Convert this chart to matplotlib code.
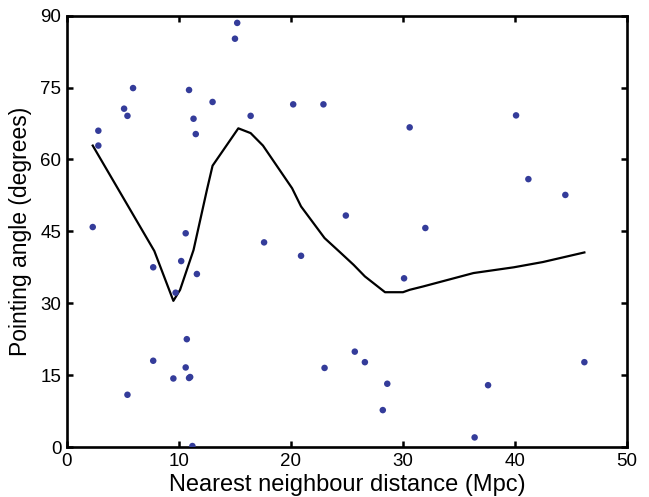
import matplotlib

matplotlib.use("Agg")
import matplotlib.pyplot as plt

# nearest neighbour distance (Mpc) and pointing angle (degrees) of each object
distance = [
    2.3, 2.8, 2.8, 5.1, 5.4, 5.9, 10.9, 11.3, 11.5, 13.0,
    15.0, 15.2, 16.4, 20.2, 22.9, 24.9, 30.6, 40.1, 41.2, 44.5,
    32.0, 10.6, 17.6, 20.9, 7.7, 10.2, 11.6, 9.7, 30.1, 10.7,
    7.7, 10.6, 9.5, 10.9, 11.0, 5.4, 11.2, 23.0, 25.7, 26.6,
    28.6, 28.2, 36.4, 37.6, 46.2,
]
angle = [
    45.9, 62.9, 66.0, 70.6, 69.1, 74.9, 74.5, 68.5, 65.3, 72.0,
    85.2, 88.5, 69.1, 71.5, 71.5, 48.3, 66.7, 69.2, 55.9, 52.6,
    45.7, 44.6, 42.7, 39.9, 37.5, 38.8, 36.1, 32.2, 35.2, 22.5,
    18.0, 16.6, 14.3, 14.4, 14.6, 10.9, 0.2, 16.5, 19.9, 17.7,
    13.2, 7.7, 2.0, 12.9, 17.7,
]

# running mean of the pointing angle
curve_x = [
    2.3, 7.8, 9.5, 10.1, 11.3, 12.5, 13.0, 15.3, 16.4, 17.5,
    20.1, 20.9, 23.0, 24.4, 25.6, 26.6, 28.4, 30.0, 30.6, 31.8,
    36.3, 39.9, 42.5, 46.2,
]
curve_y = [
    62.9, 40.9, 30.5, 32.8, 41.1, 53.7, 58.7, 66.5, 65.5, 62.9,
    54.0, 50.2, 43.6, 40.6, 38.0, 35.6, 32.3, 32.3, 32.8, 33.5,
    36.3, 37.5, 38.6, 40.6,
]

plt.rcParams["font.family"] = ["Liberation Sans", "DejaVu Sans"]

fig = plt.figure(figsize=(6.49, 4.97), dpi=100)
ax = fig.add_axes([0.1032, 0.1006, 0.8628, 0.8678])

ax.scatter(distance, angle, s=22, color="#343C9A", edgecolors="none", zorder=3)
ax.plot(curve_x, curve_y, color="black", linewidth=1.6, zorder=2)

ax.set_xlim(0, 50)
ax.set_ylim(0, 90)
ax.set_xticks(range(0, 51, 10))
ax.set_yticks(range(0, 91, 15))
ax.tick_params(direction="in", top=True, right=True, length=4, width=1.8,
               labelsize=13.5, pad=4)
for spine in ax.spines.values():
    spine.set_linewidth(1.9)

ax.set_xlabel("Nearest neighbour distance (Mpc)", fontsize=17, labelpad=3)
ax.set_ylabel("Pointing angle (degrees)", fontsize=16.5, labelpad=6)

fig.savefig("out.png", dpi=100)
